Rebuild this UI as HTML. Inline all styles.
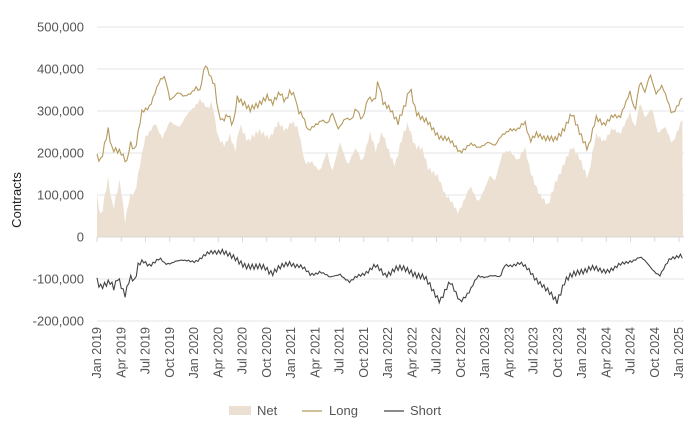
<!DOCTYPE html>
<html><head><meta charset="utf-8"><style>
body{margin:0;background:#fff;}
svg text{font-family:"Liberation Sans",sans-serif;fill:#555;}
</style></head><body>
<svg id="s" width="700" height="432" xmlns="http://www.w3.org/2000/svg"></svg>
<script>
const s=document.getElementById('s');
const Y=v=>237-v*0.00042;
let h='';
[500000,400000,300000,200000,100000,0,-100000,-200000].forEach(v=>{
 const y=Y(v);
 if(v!==0)h+=`<line x1="97" x2="684" y1="${y}" y2="${y}" stroke="#e4e4e4" stroke-width="1"/>`;
 h+=`<text x="84" y="${y+4.5}" font-size="13" text-anchor="end">${v===0?'0':v.toLocaleString('en-US')}</text>`;
});
h+=`<text transform="translate(21,200) rotate(-90)" font-size="13" text-anchor="middle" fill="#222" style="fill:#222">Contracts</text>`;
function interp(pts){const o=[];for(let x=97;x<=683;x+=1.87){let i=0;while(i<pts.length-2&&pts[i+1][0]<x)i++;const a=pts[i],b=pts[i+1];const t=Math.min(1,Math.max(0,(x-a[0])/(b[0]-a[0])));let v=a[1]+(b[1]-a[1])*t;v+=Math.sin(x*1.7)*6+Math.sin(x*3.1)*4;o.push([x,v*1000]);}return o;}
const net=interp([[97,100],[101,50],[108,140],[113,60],[120,140],[125,40],[130,100],[135,100],[145,240],[155,270],[162,230],[170,280],[180,260],[190,300],[200,330],[208,300],[212,320],[218,240],[225,220],[230,240],[235,200],[240,270],[248,230],[260,250],[270,240],[278,270],[285,250],[292,280],[298,260],[305,170],[312,180],[320,160],[327,200],[332,150],[340,230],[348,170],[356,210],[362,180],[370,250],[376,200],[382,250],[390,200],[395,170],[403,240],[408,270],[415,220],[422,210],[428,160],[438,150],[445,100],[458,60],[470,120],[478,80],[490,150],[495,130],[503,200],[510,210],[518,180],[525,210],[530,160],[540,100],[548,70],[555,130],[565,180],[572,210],[580,190],[588,140],[596,240],[604,230],[612,260],[620,240],[630,300],[635,260],[640,320],[645,280],[652,310],[658,250],[665,260],[672,220],[683,290]]);
const lng=interp([[97,195],[101,185],[104,215],[108,255],[112,205],[121,205],[127,180],[130,225],[135,200],[142,300],[150,315],[160,370],[165,380],[170,330],[178,345],[184,330],[190,340],[196,360],[200,350],[205,410],[210,380],[215,360],[218,300],[222,280],[228,290],[233,260],[237,330],[245,320],[250,305],[258,310],[268,340],[272,320],[280,340],[285,320],[290,350],[295,340],[298,300],[302,290],[308,250],[315,270],[322,280],[328,265],[332,295],[338,260],[345,285],[352,275],[356,305],[362,280],[368,335],[375,320],[378,370],[383,320],[390,310],[398,270],[405,310],[410,360],[416,300],[422,280],[428,270],[440,240],[448,230],[460,205],[470,220],[478,210],[488,230],[495,215],[502,240],[510,260],[518,255],[525,270],[530,230],[536,250],[545,230],[555,235],[565,260],[572,290],[580,250],[588,210],[596,280],[604,270],[612,290],[620,280],[630,350],[635,300],[640,370],[645,340],[650,390],[656,345],[662,360],[672,290],[683,340]]);
const sht=interp([[97,-100],[100,-115],[110,-110],[114,-125],[118,-95],[125,-135],[130,-95],[135,-110],[138,-70],[143,-55],[150,-65],[160,-55],[165,-65],[175,-55],[185,-60],[195,-55],[210,-40],[222,-30],[232,-50],[245,-65],[255,-75],[265,-70],[272,-85],[280,-75],[290,-60],[300,-70],[310,-90],[320,-80],[330,-100],[340,-85],[350,-110],[360,-90],[375,-70],[385,-90],[395,-75],[410,-80],[425,-100],[440,-150],[450,-110],[460,-150],[470,-130],[478,-95],[490,-90],[500,-100],[505,-65],[520,-65],[530,-80],[545,-125],[557,-150],[565,-105],[580,-80],[590,-75],[600,-80],[615,-75],[630,-55],[640,-50],[650,-70],[660,-90],[670,-55],[680,-40],[683,-45]]).map(p=>[p[0],p[1]*0.7-(-p[1]*0.3)]);
const P=a=>a.map(p=>p[0].toFixed(1)+','+Y(p[1]).toFixed(1)).join(' ');
h+=`<polygon points="97,237 ${P(net)} 683,237" fill="#ebe0d1"/>`;
h+=`<line x1="97" x2="684" y1="237" y2="237" stroke="#d9d9d9"/>`;
for(let i=0;i<=24;i++){const x=97+i*24.25;h+=`<line x1="${x}" x2="${x}" y1="237" y2="242" stroke="#d9d9d9"/>`;}
h+=`<polyline points="${P(lng)}" fill="none" stroke="#b59a5e" stroke-width="1.1"/>`;
h+=`<polyline points="${P(sht)}" fill="none" stroke="#444" stroke-width="1.1"/>`;
const m=['Jan','Apr','Jul','Oct'];
for(let i=0;i<=24;i++){const x=97+i*24.25+4;const lab=m[i%4]+' '+(2019+Math.floor(i/4));h+=`<text transform="translate(${x},327) rotate(-90)" font-size="12.5" text-anchor="end">${lab}</text>`;}
h+=`<rect x="229" y="406" width="22" height="9" fill="#ebe0d1"/><text x="257" y="415" font-size="13">Net</text>`;
h+=`<line x1="302" x2="322" y1="411" y2="411" stroke="#b59a5e" stroke-width="1.2"/><text x="329" y="415" font-size="13">Long</text>`;
h+=`<line x1="384" x2="404" y1="411" y2="411" stroke="#444" stroke-width="1.2"/><text x="410" y="415" font-size="13">Short</text>`;
s.innerHTML=h;
</script>
</body></html>
